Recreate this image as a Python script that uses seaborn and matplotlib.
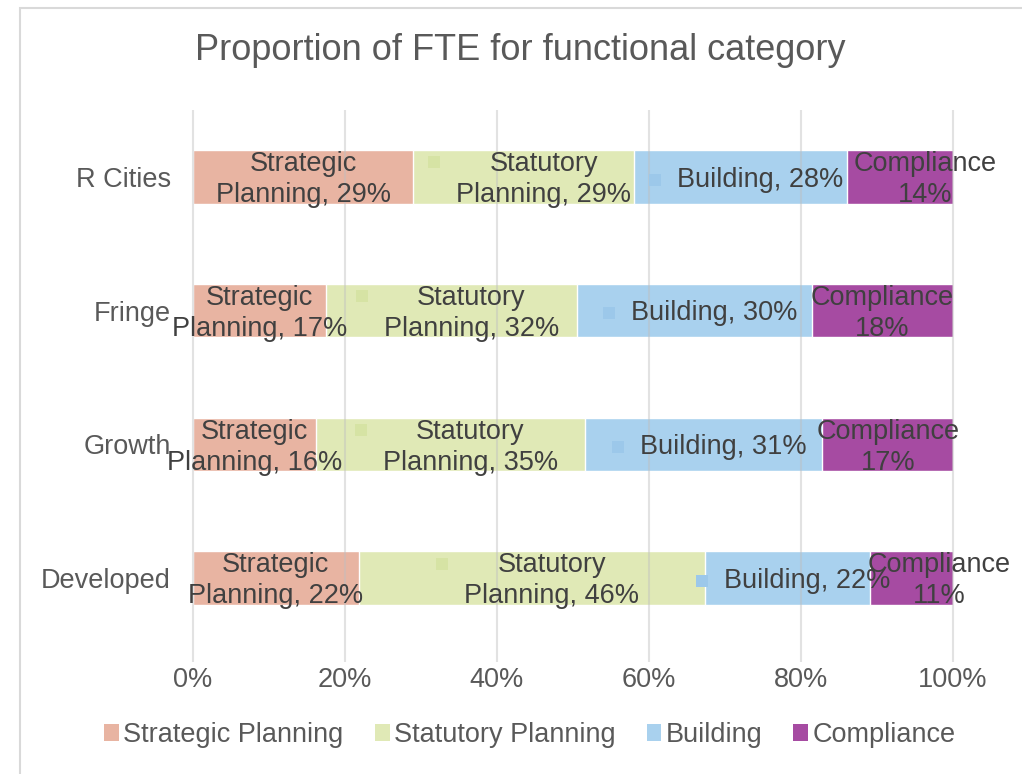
import numpy as np
import pandas as pd
import matplotlib.pyplot as plt
from matplotlib.patches import Patch, Rectangle
import seaborn as sns

# data (label values, Excel normalises each row to 100%)
categories = ["R Cities", "Fringe", "Growth", "Developed"]
series = ["Strategic Planning", "Statutory Planning", "Building", "Compliance"]
strategic = [29, 17, 16, 22]
statutory = [29, 32, 35, 46]
building = [28, 30, 31, 22]
compliance = [14, 18, 17, 11]

label_names = ["Strategic\nPlanning", "Statutory\nPlanning", "Building", "Compliance\n"]
colors = ["#E8B4A2", "#E0E9B6", "#A9D1EE", "#A64BA2"]
key_colors = [None, "#D6E3A4", "#9CC8EA", None]
# horizontal nudge of labels in pixels (Excel placement)
nudge_px = {1: [20, 20, 20, 20], 2: [20, 20, 20, 20], 3: [25, 0, 0, 28]}

sns.set_theme(style="white")
plt.rcParams["font.family"] = ["Liberation Sans", "DejaVu Sans"]

values = np.array([strategic, statutory, building, compliance], dtype=float)
shares = values / values.sum(axis=0) * 100
cum = np.cumsum(shares, axis=0)

fig = plt.figure(figsize=(10.22, 7.74), dpi=100)
ax = fig.add_axes([193 / 1022, 1 - 645 / 774, 760 / 1022, 535 / 774])

# stacked bars: draw cumulative totals from the outside in
for i in reversed(range(len(series))):
    df = pd.DataFrame({"category": categories, "cum": cum[i]})
    sns.barplot(data=df, x="cum", y="category", orient="h", color=colors[i],
                saturation=1, width=0.4, ax=ax, zorder=2)

ax.set_xlim(0, 100)
ax.set_ylim(3.5, -0.5)
ax.set_xticks(np.arange(0, 101, 20))
ax.set_xticklabels([f"{t}%" for t in range(0, 101, 20)])
ax.set_xlabel("")
ax.set_ylabel("")
for s in ax.spines.values():
    s.set_visible(False)
ax.tick_params(axis="both", length=0, labelsize=19.5, colors="#595959")
ax.tick_params(axis="x", pad=16)
ax.tick_params(axis="y", pad=16)
ax.vlines(np.arange(0, 101, 20), -0.5, 3.63, color="#BFBFBF", lw=1.5, alpha=0.45,
          zorder=3, clip_on=False)

# data labels
texts = []
for i in range(len(series)):
    for j, cat in enumerate(categories):
        left = cum[i][j] - shares[i][j]
        xc = left + shares[i][j] / 2
        dx = nudge_px.get(i, [0] * 4)[j] * 0.72
        if i == 3:
            txt = f"Compliance\n{int(values[i][j])}%"
        elif i == 2:
            txt = f"Building, {int(values[i][j])}%"
        else:
            txt = f"{label_names[i]}, {int(values[i][j])}%"
        t = ax.annotate(txt, xy=(xc, j), xytext=(dx, -2), textcoords="offset points",
                        ha="center", va="center", fontsize=19.5, color="#404040",
                        linespacing=1.25, zorder=5, annotation_clip=False)
        texts.append((i, j, t))

fig.canvas.draw()
renderer = fig.canvas.get_renderer()
inv = ax.transData.inverted()
for i, j, t in texts:
    if key_colors[i] is None:
        continue
    bb = t.get_window_extent(renderer)
    nlines = t.get_text().count("\n") + 1
    line_h = bb.height / nlines
    mx = bb.x0 - 22
    my = bb.y1 - line_h / 2 + (3 if nlines > 1 else 0)
    px, py = inv.transform((mx, my))
    ax.plot(px, py, marker="s", ms=9, color=key_colors[i], mew=0, zorder=4,
            clip_on=False)

fig.text(520 / 1022, 1 - 51 / 774, "Proportion of FTE for functional category",
         ha="center", va="center", fontsize=26, color="#595959")

handles = [Patch(facecolor=c, edgecolor="none") for c in colors]
leg = fig.legend(handles, series, loc="center", bbox_to_anchor=(530 / 1022, 1 - 735 / 774),
                 ncol=4, frameon=False, fontsize=19.5, handlelength=0.55, handleheight=0.55,
                 handletextpad=0.15, columnspacing=1.15, labelcolor="#595959")

fig.add_artist(Rectangle((20 / 1022, -0.05), 1.1, 1.05 - 8 / 774, transform=fig.transFigure,
                         fill=False, edgecolor="#D9D9D9", lw=1.5))

fig.savefig("out.png", dpi=100)
